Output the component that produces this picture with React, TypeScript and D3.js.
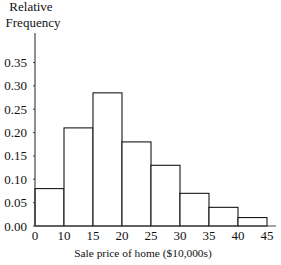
import React from 'react';
import * as d3 from 'd3';

// bin edges shown under the axis (first bin is 0-10, drawn same width as others)
const binEdges = ['0', '10', '15', '20', '25', '30', '35', '40', '45'];
const relFreq = [0.08, 0.21, 0.285, 0.18, 0.13, 0.07, 0.04, 0.018];
const yTicks = [0, 0.05, 0.1, 0.15, 0.2, 0.25, 0.3, 0.35];

const W = 281;
const H = 265;

export default function App() {
  const x = d3.scaleLinear().domain([0, binEdges.length - 1]).range([35, 267]);
  const y = d3.scaleLinear().domain([0, 0.35]).range([226, 62.5]);
  const font = '"Liberation Serif", "Times New Roman", serif';

  return (
    <svg
      width={W}
      height={H}
      style={{ position: 'absolute', left: 0, top: 0, background: '#fff' }}
      fontFamily={font}
      fontSize={13}
    >
      {/* bars */}
      {relFreq.map((v, i) => (
        <rect
          key={i}
          x={x(i)}
          y={y(v)}
          width={x(i + 1) - x(i)}
          height={y(0) - y(v)}
          fill="#fff"
          stroke="#000"
          strokeWidth={1}
        />
      ))}

      {/* axes */}
      <line x1={35} x2={35} y1={33} y2={y(0)} stroke="#222" />
      <line x1={35} x2={276} y1={y(0)} y2={y(0)} stroke="#444" />

      {yTicks.map((t) => (
        <g key={t}>
          <line x1={33} x2={35} y1={y(t)} y2={y(t)} stroke="#444" />
          <text x={27} y={y(t) + 4.5} textAnchor="end" fill="#111">
            {t.toFixed(2)}
          </text>
        </g>
      ))}

      {binEdges.map((b, i) => (
        <text key={b} x={x(i)} y={240} textAnchor="middle" fill="#111">
          {b}
        </text>
      ))}

      <text x={143} y={257} textAnchor="middle" fill="#111" fontSize={11.4}>
        Sale price of home ($10,000s)
      </text>
      <text x={31} y={11} textAnchor="middle" fill="#111">
        Relative
      </text>
      <text x={33} y={27} textAnchor="middle" fill="#111">
        Frequency
      </text>
    </svg>
  );
}
